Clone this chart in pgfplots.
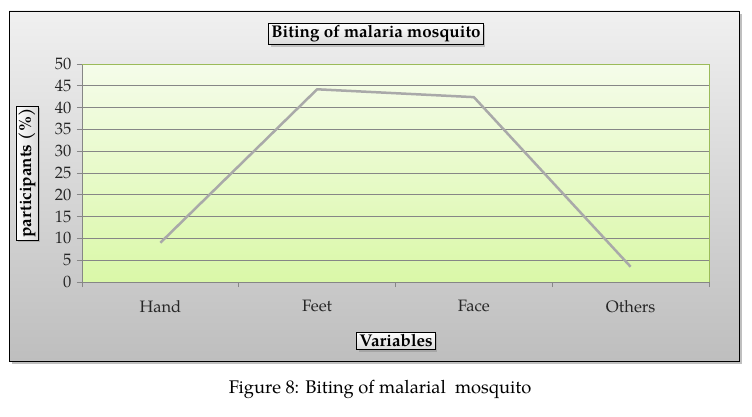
\documentclass[border=0pt]{standalone}
\usepackage{pgfplots}
\pgfplotsset{compat=1.18}
\usepackage{fontspec}
\setmainfont{TeX Gyre Pagella}
\usetikzlibrary{shadows}
\definecolor{gridgray}{HTML}{868686}
\definecolor{linegray}{HTML}{A9A9A9}
\definecolor{plottop}{HTML}{F5FCEA}
\definecolor{plotbot}{HTML}{DAF8A8}
\definecolor{plotborder}{HTML}{9BBB59}
\definecolor{frametop}{HTML}{F0F0F0}
\definecolor{framebot}{HTML}{BEBEBE}
\begin{document}
\begin{tikzpicture}[x=1pt,y=1pt]
\fontsize{16}{19}\selectfont
\path[use as bounding box] (0,0) rectangle (752,416);
\fill[white] (0,0) rectangle (752,416);
\shade[top color=frametop, bottom color=framebot, draw=black, line width=0.8pt,
  drop shadow={shadow xshift=3pt, shadow yshift=-3pt, opacity=0.5}] (9,55) rectangle (739,405);
\begin{axis}[
  at={(82pt,134pt)}, anchor=south west, scale only axis,
  width=627pt, height=218pt,
  xmin=-0.5, xmax=3.5, ymin=0, ymax=50,
  axis x line*=bottom, axis y line*=left,
  axis line style={draw=gridgray, line width=0.8pt, -},
  xtick={0,1,2,3}, xticklabels={Hand,Feet,Face,Others},
  major x tick style={draw=none},
  minor xtick={-0.5,0.5,1.5,2.5,3.5},
  ytick={0,5,...,50},
  ymajorgrids,
  grid style={gridgray, line width=0.8pt},
  tick style={gridgray, line width=0.8pt},
  tick align=outside, major tick length=5pt, minor tick length=5pt,
  axis background/.style={top color=plottop, bottom color=plotbot},
  ticklabel style={font=\fontsize{16.5}{19}\selectfont, text=black!85},
  /pgf/number format/assume math mode=true,
  xticklabel style={yshift=-8pt},
  clip=false,
]
\addplot[color=linegray, line width=2.5pt, line join=round] coordinates {(0,9.0) (1,44.2) (2,42.4) (3,3.5)};
\draw[color=plotborder, line width=0.8pt] (rel axis cs:0,1) -- (rel axis cs:1,1) -- (rel axis cs:1,0);
\end{axis}
\node[draw=black, line width=0.8pt, top color=white, bottom color=black!15, inner sep=2.5pt,
  drop shadow={shadow xshift=2pt, shadow yshift=-2pt, opacity=0.4}, font=\fontsize{17}{20}\selectfont\bfseries]
  at (376,382) {Biting of malaria mosquito};
\node[draw=black, line width=0.8pt, left color=white, right color=black!15, inner sep=2.5pt, rotate=90,
  drop shadow={shadow xshift=2pt, shadow yshift=-2pt, opacity=0.4}, font=\fontsize{17}{20}\selectfont\bfseries]
  at (27,243) {participants (\%)};
\node[draw=black, line width=0.8pt, top color=white, bottom color=black!15, inner sep=2.5pt,
  drop shadow={shadow xshift=2pt, shadow yshift=-2pt, opacity=0.4}, font=\fontsize{17}{20}\selectfont\bfseries]
  at (396,75) {Variables};
\node[font=\fontsize{18.3}{21}\selectfont] at (380,27) {Figure 8: Biting of malarial\ \ mosquito};
\end{tikzpicture}
\end{document}
